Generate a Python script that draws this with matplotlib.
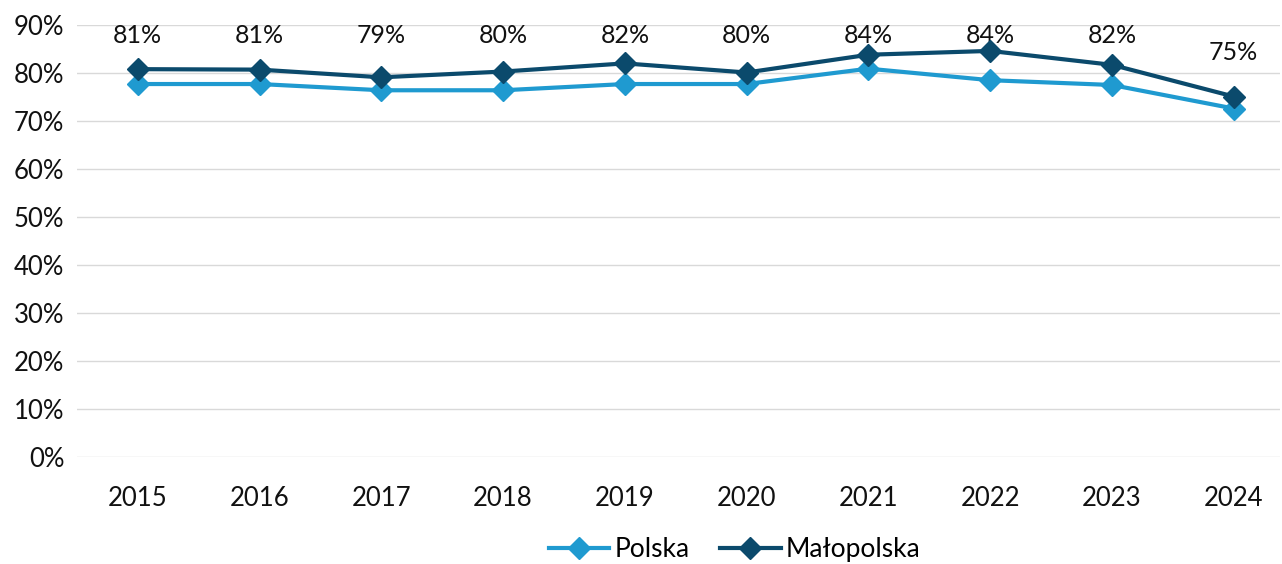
import matplotlib.pyplot as plt
from matplotlib.ticker import PercentFormatter

plt.rcParams['font.family'] = ['Lato', 'DejaVu Sans']

# --- DATA ---
years = ['2015', '2016', '2017', '2018', '2019', '2020', '2021', '2022', '2023', '2024']
polska = [77.7, 77.7, 76.4, 76.4, 77.7, 77.7, 80.9, 78.5, 77.5, 72.6]
malopolska = [80.8, 80.7, 79.1, 80.3, 82.0, 80.1, 83.8, 84.6, 81.7, 75.1]
malopolska_labels = ['81%', '81%', '79%', '80%', '82%', '80%', '84%', '84%', '82%', '75%']

c_pl = '#1f9ad0'
c_mp = '#0b4a6c'

fig = plt.figure(figsize=(12.82, 5.64), dpi=100)
ax = fig.add_axes([0.060, 0.1897, 0.9384, 0.766])

x = list(range(len(years)))
ax.plot(x, polska, color=c_pl, lw=3, marker='D', ms=11, label='Polska', zorder=3)
ax.plot(x, malopolska, color=c_mp, lw=3, marker='D', ms=11, label='Małopolska', zorder=4)

# labels sit above the Małopolska points, kept inside the plot area
for xi, v, txt in zip(x, malopolska, malopolska_labels):
    ax.text(xi, min(v + 9.2, 87.9), txt, ha='center', va='center', fontsize=18, color='#111111')

ax.set_ylim(0, 90)
ax.set_xlim(-0.5, 9.38)
ax.set_yticks(range(0, 91, 10))
ax.yaxis.set_major_formatter(PercentFormatter(decimals=0))
ax.set_xticks(x)
ax.set_xticklabels(years)
ax.tick_params(axis='both', length=0, labelsize=18.5, colors='#111111')
ax.tick_params(axis='x', pad=21)
ax.tick_params(axis='y', pad=9)
ax.grid(axis='y', color='#d9d9d9', lw=1)
ax.set_axisbelow(True)
for s in ax.spines.values():
    s.set_visible(False)

fig.legend(loc='center', bbox_to_anchor=(0.573, 0.025), ncol=2, frameon=False,
           fontsize=19, handlelength=2.3, columnspacing=1.15, handletextpad=0.2)

fig.savefig('out.png', dpi=100)
